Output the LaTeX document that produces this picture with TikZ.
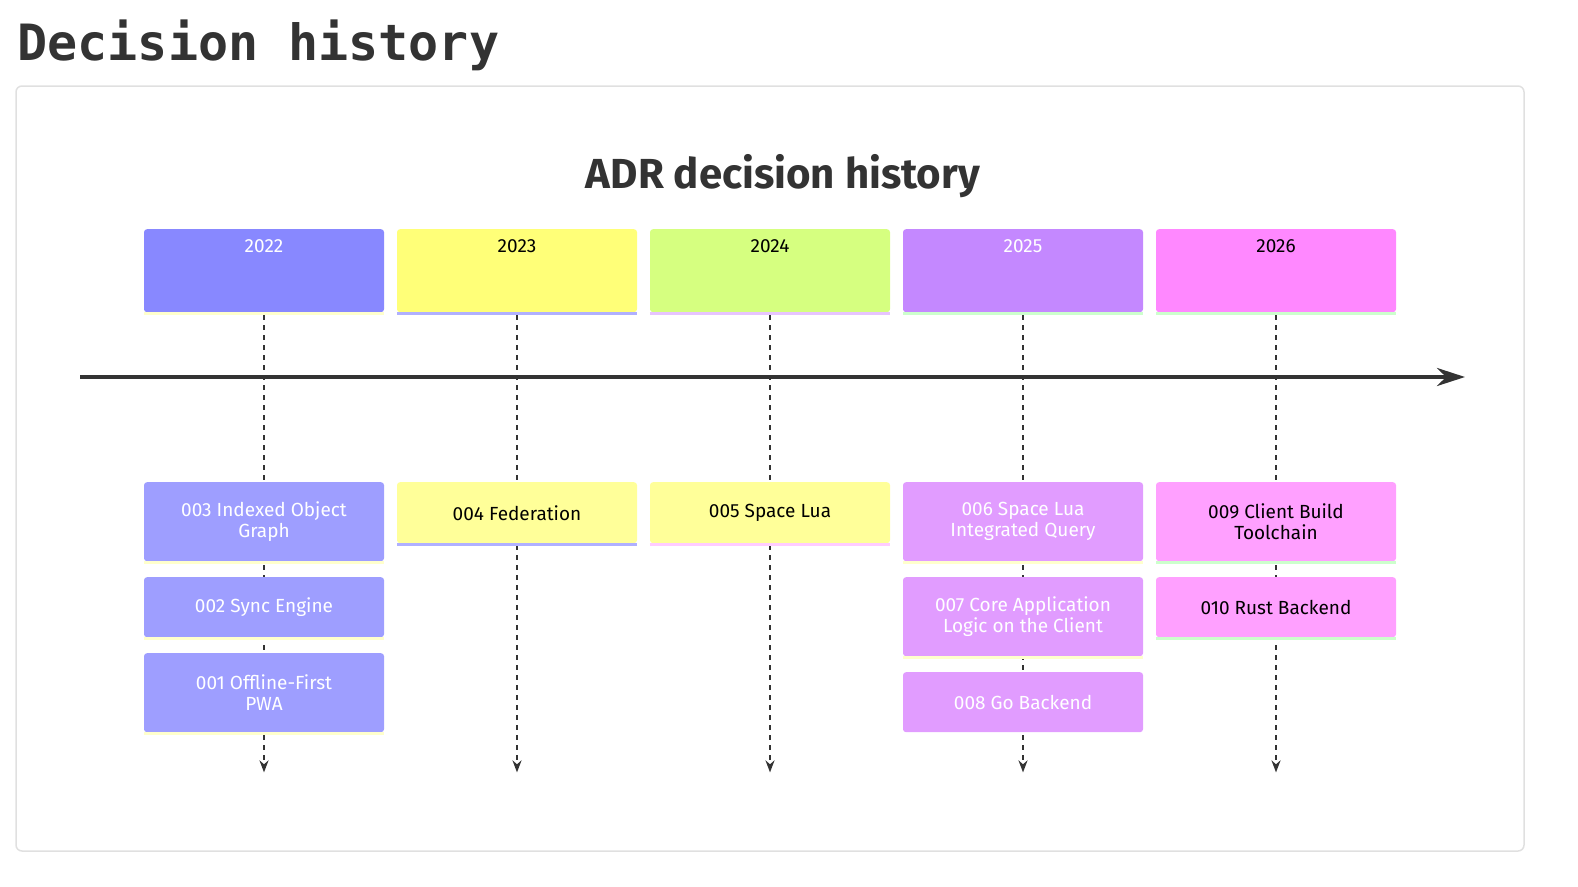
\documentclass[tikz,border=0pt]{standalone}
\usepackage{fontspec}
\setmainfont{Fira Sans}
\newfontfamily\monofont{DejaVu Sans Mono}
\usetikzlibrary{arrows.meta,positioning}
\definecolor{hdA}{HTML}{8888FF}\definecolor{evA}{HTML}{9E9EFF}
\definecolor{hdB}{HTML}{FFFF78}\definecolor{evB}{HTML}{FFFF99}
\definecolor{hdC}{HTML}{D6FF80}\definecolor{evC}{HTML}{FFFF99}
\definecolor{hdD}{HTML}{C488FF}\definecolor{evD}{HTML}{E19CFF}
\definecolor{hdE}{HTML}{FF88FF}\definecolor{evE}{HTML}{FFA0FF}
\definecolor{stYel}{HTML}{FFFFCC}\definecolor{stLav}{HTML}{B0B0FF}
\definecolor{stGrn}{HTML}{CCFFCC}\definecolor{stPnk}{HTML}{FFCCFF}
\definecolor{ink}{HTML}{333333}
\tikzset{
  box/.style={anchor=north, minimum width=240pt, inner sep=0pt, align=center,
    font=\fontsize{19}{21}\selectfont, rounded corners=3pt},
  hd/.style={box, minimum height=83pt, text depth=50pt},
  ev/.style={box},
  strip/.style={line width=3pt},
  vline/.style={ink, line width=2pt, dash pattern=on 5pt off 5pt, -{Stealth[length=12pt,width=9pt]}},
}
\begin{document}
\begin{tikzpicture}[x=1pt,y=-1pt]
    \useasboundingbox (0,0) rectangle (1578,886);
    \node[anchor=west, ink, font=\monofont\bfseries\fontsize{50}{50}\selectfont] (title) at (14,45) {Decision history};
    \draw[black!12, line width=1.5pt, rounded corners=6pt] (16,86) rectangle (1524,851);
    \node[ink, font=\bfseries\fontsize{42}{44}\selectfont] (sub) at (783,176) {ADR decision history};

    % year headers
    \node[hd, fill=hdA, text=white] (y22) at (264,229) {2022};
    \node[hd, fill=hdB] (y23) at (517,229) {2023};
    \node[hd, fill=hdC] (y24) at (770,229) {2024};
    \node[hd, fill=hdD, text=white] (y25) at (1023,229) {2025};
    \node[hd, fill=hdE] (y26) at (1276,229) {2026};
    \draw[strip, stYel] ([yshift=-1.5pt]y22.south west) -- ([yshift=-1.5pt]y22.south east);
    \draw[strip, stLav] ([yshift=-1.5pt]y23.south west) -- ([yshift=-1.5pt]y23.south east);
    \draw[strip, stPnk!70!stLav] ([yshift=-1.5pt]y24.south west) -- ([yshift=-1.5pt]y24.south east);
    \draw[strip, stGrn] ([yshift=-1.5pt]y25.south west) -- ([yshift=-1.5pt]y25.south east);
    \draw[strip, stGrn] ([yshift=-1.5pt]y26.south west) -- ([yshift=-1.5pt]y26.south east);

    % time axis
    \coordinate (ax0) at (80,377);
    \coordinate (ax1) at (1465,377);
    \draw[ink, line width=4pt, -{Stealth[length=28pt,width=18pt]}] (ax0) -- (ax1);

    % dashed lines
    \foreach \y in {22,23,24,25,26} {
      \coordinate (end\y) at ([yshift=-460pt]y\y.south);
      \draw[vline] ([yshift=-3pt]y\y.south) -- (end\y);
    }

    % 2022
    \node[ev, fill=evA, text=white, minimum height=79pt] (e3) at (264,482) {003 Indexed Object\\Graph};
    \node[ev, fill=evA, text=white, minimum height=60pt] (e2) at (264,577) {002 Sync Engine};
    \node[ev, fill=evA, text=white, minimum height=79pt] (e1) at (264,653) {001 Offline-First\\PWA};
    % 2023, 2024
    \node[ev, fill=evB, minimum height=61pt] (e4) at (517,482) {004 Federation};
    \node[ev, fill=evC, minimum height=61pt] (e5) at (770,482) {005 Space Lua};
    % 2025
    \node[ev, fill=evD, text=white, minimum height=79pt] (e6) at (1023,482) {006 Space Lua\\Integrated Query};
    \node[ev, fill=evD, text=white, minimum height=79pt] (e7) at (1023,577) {007 Core Application\\Logic on the Client};
    \node[ev, fill=evD, text=white, minimum height=60pt] (e8) at (1023,672) {008 Go Backend};
    % 2026
    \node[ev, fill=evE, minimum height=79pt] (e9) at (1276,482) {009 Client Build\\Toolchain};
    \node[ev, fill=evE, minimum height=60pt] (e10) at (1276,577) {010 Rust Backend};

    \foreach \n/\c in {e3/stYel,e2/stYel,e1/stYel,e4/stLav,e5/stPnk,e6/stYel,e7/stYel,e9/stGrn,e10/stGrn}
      \draw[strip, \c] ([yshift=-1.5pt]\n.south west) -- ([yshift=-1.5pt]\n.south east);
\end{tikzpicture}
\end{document}
